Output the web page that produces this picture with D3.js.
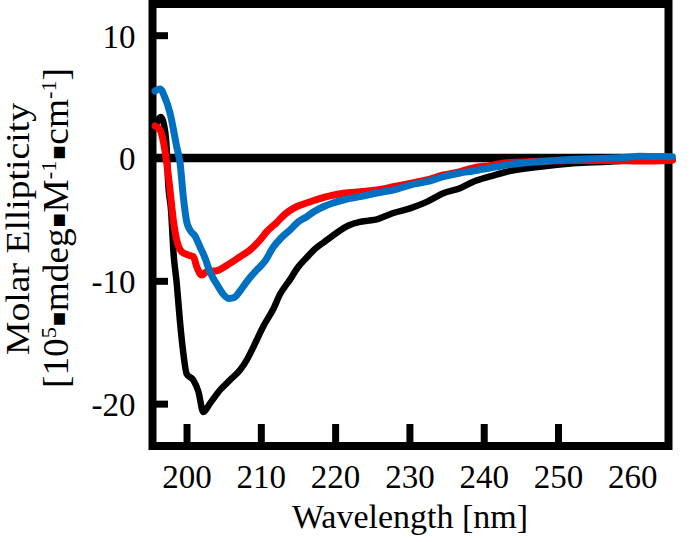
<!DOCTYPE html>
<html><head><meta charset="utf-8">
<script src="https://cdn.jsdelivr.net/npm/d3@7"></script>
<style>
html,body{margin:0;padding:0;background:#fff;}
text{font-family:"Liberation Serif","Times New Roman",serif;fill:#000;}
</style></head>
<body><svg id="c" width="693" height="542"></svg>
<script>
// ---- data ----
const xTicks = [200, 210, 220, 230, 240, 250, 260];
const yTicks = [10, 0, -10, -20];

const blackWl  = [195.76,196.16,196.57,196.97,197.34,197.51,197.95,198.22,198.68,199.13,199.57,200.03,200.92,201.59,202.26,203.16,204.51,205.85,207.20,208.10,209.45,210.34,211.68,212.58,213.93,215.00,216.18,217.30,218.40,219.50,220.66,221.80,223.35,224.50,225.60,226.70,227.83,230.08,232.33,234.56,236.81,238.60,240.85,243.10,247.58,252.06,256.55,261.04,265.40];
const blackVal = [2.44,3.09,3.34,2.69,0.65,-1.79,-4.48,-7.49,-10.20,-13.40,-15.90,-17.60,-18.08,-19.00,-20.68,-19.98,-18.89,-18.08,-17.26,-16.45,-14.82,-13.70,-12.30,-11.10,-9.90,-8.90,-8.10,-7.40,-6.90,-6.40,-5.90,-5.50,-5.20,-5.10,-5.00,-4.75,-4.48,-4.10,-3.57,-2.87,-2.46,-1.93,-1.50,-1.12,-0.71,-0.43,-0.30,-0.16,-0.11];

const redWl  = [195.76,196.43,196.88,197.34,197.78,198.22,198.68,199.35,200.24,200.92,201.37,202.05,202.72,204.06,205.50,207.20,208.55,209.89,210.79,212.14,213.20,214.37,215.50,216.62,218.87,221.10,223.35,225.60,227.83,230.08,232.33,234.56,236.81,238.60,241.00,243.10,246.00,250.00,254.00,258.00,261.04,265.40];
const redVal = [2.61,2.28,1.33,-0.43,-2.61,-5.05,-6.68,-7.63,-7.90,-8.04,-8.85,-9.53,-9.26,-9.18,-8.71,-8.04,-7.49,-6.68,-6.00,-5.25,-4.60,-4.10,-3.80,-3.57,-3.15,-2.87,-2.74,-2.61,-2.34,-2.06,-1.79,-1.38,-1.12,-0.81,-0.60,-0.38,-0.30,-0.22,-0.20,-0.22,-0.25,-0.18];

const blueWl  = [195.76,196.43,197.11,197.78,198.68,199.13,199.57,200.03,200.47,201.14,201.82,202.49,203.16,204.06,204.91,205.72,206.53,207.20,208.28,209.45,210.57,211.68,212.72,213.93,215.01,216.18,217.29,218.41,219.72,221.10,223.35,225.60,227.83,230.08,232.33,234.56,236.81,238.60,240.85,243.10,245.29,247.58,249.87,252.06,254.31,256.55,258.75,261.04,263.19,265.40];
const blueVal = [5.46,5.62,4.89,3.66,0.92,-0.41,-3.18,-5.21,-5.86,-6.35,-7.25,-8.14,-9.28,-10.26,-11.07,-11.44,-11.32,-10.83,-9.93,-9.12,-8.39,-7.25,-6.51,-5.86,-5.21,-4.78,-4.32,-3.97,-3.66,-3.42,-3.15,-2.85,-2.61,-2.20,-1.93,-1.52,-1.22,-1.06,-0.81,-0.57,-0.41,-0.30,-0.20,-0.11,-0.07,-0.02,0.04,0.14,0.12,0.11];

const series = [
  {name:"black", wl:blackWl, val:blackVal, color:"#000000", w:6.5},
  {name:"red",   wl:redWl,   val:redVal,   color:"#FF0000", w:7},
  {name:"blue",  wl:blueWl,  val:blueVal,  color:"#0070C0", w:7}
];

// ---- layout ----
const L = 152.5, R = 668.5, T = 4, B = 446;
const svg = d3.select("#c");
const x = d3.scaleLinear().domain([195.42, 264.87]).range([L, R]);
const y = d3.scaleLinear().domain([-23.45, 12.54]).range([B, T]);
const fmt = d => String(d);

// zero line
svg.append("line").attr("x1", L).attr("x2", R).attr("y1", y(0)).attr("y2", y(0))
  .attr("stroke", "#000").attr("stroke-width", 8.5);

// x axis (ticks inward)
const gx = svg.append("g").attr("transform", `translate(0,${B})`)
  .call(d3.axisBottom(x).tickValues(xTicks).tickSize(-22).tickPadding(18.5).tickFormat(fmt));
gx.attr("font-family", null);
gx.select(".domain").remove();
gx.selectAll(".tick line").attr("stroke", "#000").attr("stroke-width", 7)
  .filter(d => d === 260).remove();
gx.selectAll(".tick text").attr("font-size", 33);

// y axis (ticks inward)
const gy = svg.append("g").attr("transform", `translate(${L},0)`)
  .call(d3.axisLeft(y).tickValues(yTicks).tickSize(-15.5).tickPadding(17).tickFormat(fmt));
gy.attr("font-family", null);
gy.select(".domain").remove();
gy.selectAll(".tick line").attr("stroke", "#000").attr("stroke-width", 7);
gy.selectAll(".tick text").attr("font-size", 33).attr("dy", "0.36em");

// frame
svg.append("rect").attr("x", L).attr("y", T).attr("width", R - L).attr("height", B - T)
  .attr("fill", "none").attr("stroke", "#000").attr("stroke-width", 8);

// curves
const line = d3.line().x(d => x(d[0])).y(d => y(d[1])).curve(d3.curveMonotoneX);
series.forEach(s => {
  const pts = s.wl.map((w, i) => [w, s.val[i]]);
  svg.append("path").datum(pts).attr("d", line)
    .attr("fill", "none").attr("stroke", s.color).attr("stroke-width", s.w)
    .attr("stroke-linejoin", "round").attr("stroke-linecap", "round");
});

// axis titles
svg.append("text").attr("x", 410).attr("y", 528).attr("text-anchor", "middle")
  .attr("font-size", 34).text("Wavelength [nm]");

svg.append("text").attr("transform", "translate(29,229) rotate(-90)")
  .attr("text-anchor", "middle").attr("font-size", 33)
  .attr("textLength", 252).attr("lengthAdjust", "spacingAndGlyphs")
  .text("Molar Ellipticity");

const t2 = svg.append("text").attr("transform", "translate(68,228) rotate(-90)")
  .attr("text-anchor", "middle").attr("font-size", 35)
  .attr("textLength", 320).attr("lengthAdjust", "spacingAndGlyphs");
const parts = [
  ["[10", 0], ["5", 1], ["\u25AA", 2], ["mdeg", 0], ["\u25AA", 2], ["M", 0], ["-1", 1],
  ["\u25AA", 2], ["cm", 0], ["-1", 1], ["]", 0]
];
let shift = 0;
parts.forEach(([txt, kind]) => {
  const target = kind === 1 ? -12 : (kind === 2 ? -3 : 0);
  const ts = t2.append("tspan").attr("dy", target - shift).text(txt);
  shift = target;
  if (kind === 1) ts.attr("font-size", 21);
  if (kind === 2) ts.attr("font-family", "DejaVu Sans").attr("font-size", 22);
});
</script></body></html>
